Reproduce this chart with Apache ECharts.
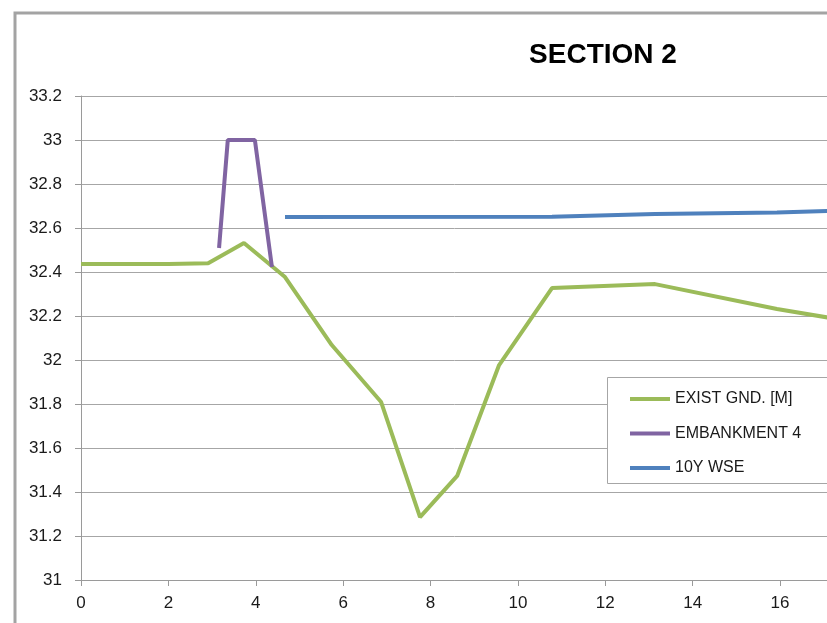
<!DOCTYPE html>
<html>
<head>
<meta charset="utf-8">
<script src="https://cdn.jsdelivr.net/npm/echarts@6/dist/echarts.min.js"></script>
<style>
  html, body { margin: 0; padding: 0; background: #ffffff; }
  #chart { width: 827px; height: 623px; }
</style>
</head>
<body>
<div id="chart"></div>
<script>
// Cross-section: chainage (x) against elevation in metres (y)
const seriesNames = ['EXIST GND. [M]', 'EMBANKMENT 4', '10Y WSE'];

const groundX = [0, 2.0, 2.91, 3.73, 4.67, 5.74, 6.87, 7.76, 8.61, 9.57, 10.78, 13.14, 15.93, 17.1];
const groundY = [32.436, 32.436, 32.44, 32.532, 32.377, 32.068, 31.809, 31.286, 31.473, 31.977, 32.327, 32.345, 32.232, 32.193];

const embankX = [3.16, 3.36, 3.98, 4.37];
const embankY = [32.509, 33.0, 33.0, 32.423];

const wseX = [4.67, 10.78, 13.14, 15.93, 17.1];
const wseY = [32.65, 32.651, 32.664, 32.671, 32.677];

const yTicks = { min: 31, max: 33.2, step: 0.2 };
const xTicks = { min: 0, max: 18, step: 2 };

const colors = ['#9bbb59', '#8064a2', '#4f81bd'];

function pairs(xs, ys) {
  return xs.map((x, i) => [x, ys[i]]);
}

const font = '"Liberation Sans", Arial, sans-serif';
const chart = echarts.init(document.getElementById('chart'), null, { renderer: 'canvas' });

chart.setOption({
  animation: false,
  backgroundColor: '#ffffff',
  title: {
    text: 'SECTION 2',
    left: 598,
    top: 36,
    textAlign: 'center',
    textStyle: { fontFamily: font, fontSize: 28, fontWeight: 'bold', color: '#000000' }
  },
  grid: {
    left: 81, top: 96, width: 786.4, height: 484,
    containLabel: false,
    outerBoundsMode: 'none'
  },
  xAxis: {
    type: 'value',
    min: xTicks.min,
    max: xTicks.max,
    interval: xTicks.step,
    axisLine: { show: true, lineStyle: { color: '#9a9a9a', width: 1 } },
    axisTick: { show: true, length: 6, lineStyle: { color: '#9a9a9a' } },
    axisLabel: { margin: 15, fontFamily: font, fontSize: 17, color: '#1a1a1a' },
    splitLine: { show: false }
  },
  yAxis: {
    type: 'value',
    min: yTicks.min,
    max: yTicks.max,
    interval: yTicks.step,
    axisLine: { show: true, lineStyle: { color: '#9a9a9a', width: 1 } },
    axisTick: { show: true, length: 6, lineStyle: { color: '#9a9a9a' } },
    axisLabel: { margin: 19, fontFamily: font, fontSize: 17, color: '#1a1a1a' },
    splitLine: { show: true, lineStyle: { color: '#a6a6a6', width: 1 } }
  },
  legend: {
    orient: 'vertical',
    left: 625,
    top: 385,
    z: 10,
    itemWidth: 40,
    itemHeight: 4,
    itemGap: 16.5,
    icon: 'rect',
    textStyle: { fontFamily: font, fontSize: 16, color: '#1a1a1a', lineHeight: 18 },
    data: seriesNames
  },
  graphic: [
    {
      // outer chart frame
      type: 'rect',
      z: 0,
      shape: { x: 15, y: 13, width: 900, height: 700 },
      style: { fill: 'none', stroke: '#a3a3a3', lineWidth: 3 }
    },
    {
      // legend box
      type: 'rect',
      z: 6,
      shape: { x: 607.5, y: 377.5, width: 240, height: 106 },
      style: { fill: '#ffffff', stroke: '#a6a6a6', lineWidth: 1 }
    }
  ],
  series: [
    {
      name: seriesNames[0],
      type: 'line',
      data: pairs(groundX, groundY),
      symbol: 'none',
      color: colors[0],
      lineStyle: { width: 4, color: colors[0] },
      z: 3
    },
    {
      name: seriesNames[1],
      type: 'line',
      data: pairs(embankX, embankY),
      symbol: 'none',
      color: colors[1],
      lineStyle: { width: 4, color: colors[1] },
      z: 4
    },
    {
      name: seriesNames[2],
      type: 'line',
      data: pairs(wseX, wseY),
      symbol: 'none',
      color: colors[2],
      lineStyle: { width: 4, color: colors[2] },
      z: 3
    }
  ]
});
</script>
</body>
</html>
